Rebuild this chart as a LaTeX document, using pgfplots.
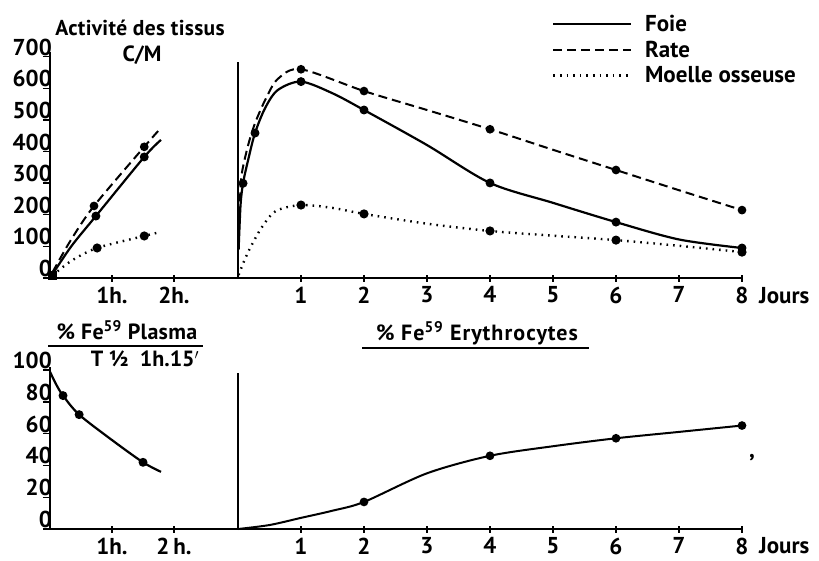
\documentclass[border=0pt]{standalone}
\usepackage{fontspec}
\setmainfont{PT Sans}
\usepackage{pgfplots}
\pgfplotsset{compat=1.18}
\newcommand{\tkf}{\fontsize{23}{25}\selectfont\bfseries}
\newcommand{\ttf}{\fontsize{22}{24}\selectfont\bfseries}
\begin{document}
\begin{tikzpicture}
\useasboundingbox (0pt,0pt) rectangle (819pt,-560pt);
\pgfplotsset{
  base/.style={scale only axis, clip=false,
    axis x line=bottom, axis y line=left,
    axis line style={-}, x axis line style={line width=2.2pt},
    tick style={black, line width=1.4pt},
    ticklabel style={font=\tkf},
    /pgf/number format/assume math mode=true,
    major tick length=7pt},
  leftp/.style={base, width=188pt, xmin=0, xmax=3.032,
    y axis line style={line width=2pt},
    xtick={1,2}, ytick align=outside, xtick align=center,
    yticklabel style={anchor=south east, inner sep=0pt, xshift=9pt, yshift=1pt},
    xticklabel style={inner sep=0pt, yshift=-5pt}},
  rightp/.style={base, width=504pt, xmin=0, xmax=8,
    y axis line style={line width=1.3pt},
    xtick={1,2,...,8}, ytick=\empty, xtick align=center,
    xticklabel style={inner sep=0pt, yshift=-5pt}},
  crv/.style={black, smooth, tension=0.5, mark=*, mark size=3.3pt, mark options={solid}},
}
% ---------- top left (hours)
\begin{axis}[leftp, at={(50pt,-278pt)}, anchor=south west,
  ymin=0, ymax=715, height=226pt, ytick={0,100,...,700},
  xticklabels={1h.,2h.}]
\addplot[crv, line width=2.2pt, mark indices={3,4}] coordinates {(0.04,12) (0.35,102) (0.74,196) (1.52,383) (1.79,437)};
\addplot[crv, line width=2pt, dash pattern=on 9pt off 5pt, mark indices={3,4}] coordinates {(0.04,18) (0.33,118) (0.71,228) (1.52,415) (1.79,475)};
\addplot[crv, line width=2.4pt, dash pattern=on 1.6pt off 5pt, mark indices={3,4}] coordinates {(0.04,8) (0.35,55) (0.76,95) (1.52,133) (1.79,146)};
\addplot[only marks, mark=square*, mark size=4pt] coordinates {(0.04,8)};
\end{axis}
% ---------- top right (days)
\begin{axis}[rightp, at={(238pt,-278pt)}, anchor=south west,
  ymin=0, ymax=684, height=216pt,
  legend style={draw=none, fill=none, at={(0.623,1.22)}, anchor=north west,
    font=\fontsize{23}{25}\selectfont\bfseries, row sep=7pt, inner sep=0pt,
    nodes={inner sep=0.5pt}, cells={anchor=west}},
  legend image code/.code={\draw[#1] (0pt,0pt) -- (78pt,0pt);}]
\addplot[crv, line width=2.2pt, mark indices={3,5,8,10,12,14,16}] coordinates {(0.01,90) (0.04,230) (0.08,300) (0.16,373) (0.27,459) (0.43,538) (0.63,595) (1,622) (1.5,585) (2,532) (3,421) (4,301) (5,238) (6,177) (7,122) (8,95)};
\addlegendentry{\hspace{12pt}Foie}
\addplot[crv, line width=2pt, dash pattern=on 9pt off 5pt, mark indices={8,9,11,13,15}] coordinates {(0.01,110) (0.03,240) (0.06,330) (0.16,420) (0.27,490) (0.43,563) (0.63,630) (1,661) (2,592) (3,532) (4,471) (5,406) (6,342) (7,278) (8,215)};
\addlegendentry{\hspace{12pt}Rate}
\addplot[crv, line width=2.4pt, dash pattern=on 1.6pt off 5pt, mark indices={6,8,10,12,14}] coordinates {(0.01,10) (0.1,55) (0.2,98) (0.38,161) (0.6,212) (1,231) (1.5,222) (2,203) (3,172) (4,149) (5,134) (6,120) (7,102) (8,82)};
\addlegendentry{\hspace{12pt}Moelle osseuse}
\end{axis}
% ---------- bottom left (hours)
\begin{axis}[leftp, at={(50pt,-529pt)}, anchor=south west,
  ymin=0, ymax=102, height=162pt, ytick={0,20,...,100},
  xticklabels={1h.,2\,h.}]
\addplot[crv, line width=2.2pt, mark indices={3,4,6}] coordinates {(0,99) (0.1,91) (0.21,84) (0.47,72) (1.0,56) (1.5,42) (1.79,36)};
\end{axis}
% ---------- bottom right (days)
\begin{axis}[rightp, at={(238pt,-529pt)}, anchor=south west,
  ymin=0, ymax=98, height=156pt]
\addplot[crv, line width=2pt, mark indices={5,7,9,11}] coordinates {(0,0) (0.5,2.5) (1,7) (1.5,11.5) (2,17) (3,35) (4,46) (5,52) (6,57) (7,61) (8,65)};
\end{axis}
% ---------- texts
\node[font=\fontsize{21.5}{23}\selectfont\bfseries\addfontfeatures{LetterSpace=1.5}] at (140pt,-28pt) {Activité des tissus};
\node[font=\ttf] at (142pt,-55pt) {C/M};
\node[font=\ttf\addfontfeatures{LetterSpace=1.5}, anchor=base] at (127pt,-339pt) {\% Fe\textsuperscript{59} Plasma};
\draw[line width=2pt] (48pt,-346pt) -- (203pt,-346pt);
\node[font=\ttf] at (145pt,-359pt) {T ½\ \ 1h.15$'$};
\node[font=\ttf\addfontfeatures{LetterSpace=5}, anchor=base] at (477pt,-340pt) {\% Fe\textsuperscript{59} Erythrocytes};
\draw[line width=2pt] (362pt,-348pt) -- (589pt,-348pt);
\node[font=\tkf, anchor=base west, inner sep=0pt] at (759pt,-303pt) {Jours};
\node[font=\tkf, anchor=base west, inner sep=0pt] at (759pt,-553pt) {Jours};
\node[font=\tkf] at (752pt,-458pt) {,};
\end{tikzpicture}
\end{document}
